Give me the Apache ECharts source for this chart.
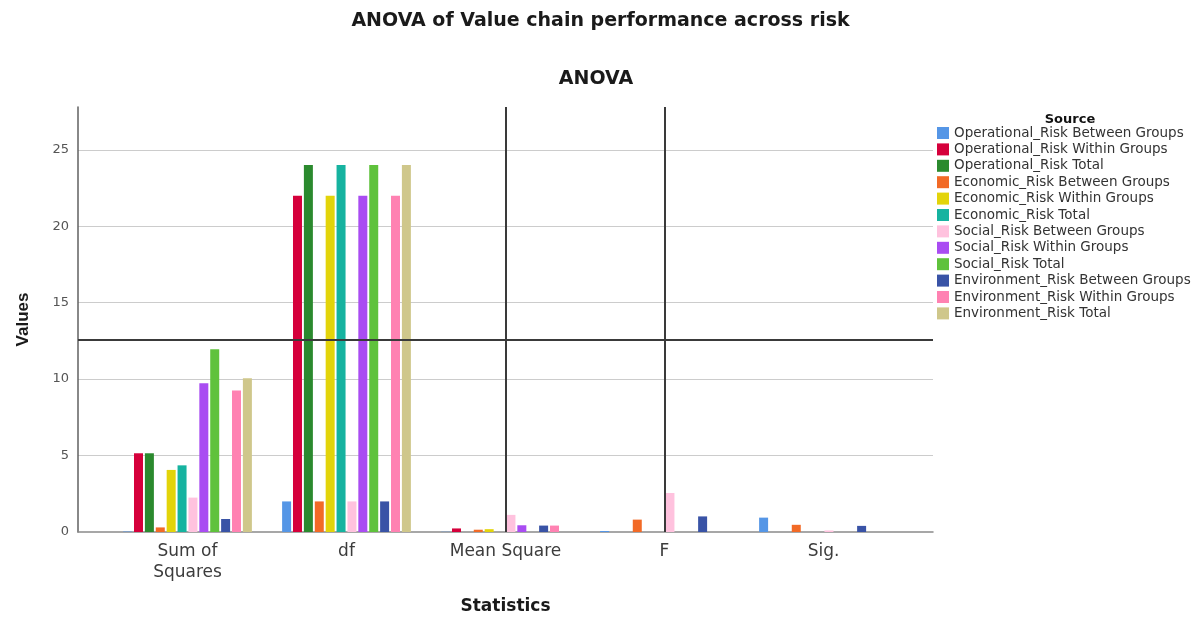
<!DOCTYPE html>
<html>
<head>
<meta charset="utf-8">
<script src="https://cdn.jsdelivr.net/npm/echarts@6/dist/echarts.min.js"></script>
<style>html,body{margin:0;padding:0;background:#fff;}#chart{width:1201px;height:619px;}</style>
</head>
<body>
<div id="chart"></div>
<script>
const categories = ['Sum of\nSquares', 'df', 'Mean Square', 'F', 'Sig.'];
const seriesNames = [
  'Operational_Risk Between Groups', 'Operational_Risk Within Groups', 'Operational_Risk Total',
  'Economic_Risk Between Groups', 'Economic_Risk Within Groups', 'Economic_Risk Total',
  'Social_Risk Between Groups', 'Social_Risk Within Groups', 'Social_Risk Total',
  'Environment_Risk Between Groups', 'Environment_Risk Within Groups', 'Environment_Risk Total'
];
// values per series: [Sum of Squares, df, Mean Square, F, Sig.]
const opBetween  = [0.03, 2, 0.015, 0.065, 0.94];
const opWithin   = [5.15, 22, 0.233, null, null];
const opTotal    = [5.15, 24, null, null, null];
const ecBetween  = [0.30, 2, 0.15, 0.81, 0.47];
const ecWithin   = [4.06, 22, 0.185, null, null];
const ecTotal    = [4.36, 24, null, null, null];
const soBetween  = [2.25, 2, 1.12, 2.55, 0.10];
const soWithin   = [9.73, 22, 0.44, null, null];
const soTotal    = [11.95, 24, null, null, null];
const enBetween  = [0.85, 2, 0.42, 1.02, 0.40];
const enWithin   = [9.25, 22, 0.42, null, null];
const enTotal    = [10.05, 24, null, null, null];
const seriesValues = [opBetween, opWithin, opTotal, ecBetween, ecWithin, ecTotal,
                      soBetween, soWithin, soTotal, enBetween, enWithin, enTotal];
const colors = ['#5596e6', '#d5003b', '#2b8a2e', '#f26a26', '#e3d40a', '#16b3a0',
                '#ffc2de', '#a94cf2', '#5fc23c', '#3953a6', '#ff82b2', '#cfc78b'];
const yTicks = { min: 0, max: 27.8, interval: 5 };
const refLineY = 12.55;
const refLineCats = ['Mean Square', 'F'];

const chart = echarts.init(document.getElementById('chart'), null, { renderer: 'canvas' });
const fontMain = 'DejaVu Sans';
const refStyle = { color: '#3a3a3a', width: 2, type: 'solid' };

const barSeries = seriesNames.map((name, i) => ({
  name: name,
  type: 'bar',
  xAxisIndex: 1,
  yAxisIndex: 1,
  data: seriesValues[i],
  barWidth: 9,
  barGap: '21%',
  itemStyle: { color: colors[i] },
  emphasis: { disabled: true }
}));

const option = {
  animation: false,
  backgroundColor: '#ffffff',
  color: colors,
  title: [
    { text: 'ANOVA of Value chain performance across risk', left: 'center', top: 7,
      textStyle: { fontFamily: fontMain, fontSize: 19, fontWeight: 'bold', color: '#1a1a1a' } },
    { text: 'ANOVA', left: 591, top: 65, textAlign: 'center',
      textStyle: { fontFamily: fontMain, fontSize: 19, fontWeight: 'bold', color: '#1a1a1a' } },
    { text: 'Source', left: 1065, top: 108, textAlign: 'center',
      textStyle: { fontFamily: fontMain, fontSize: 13, fontWeight: 'bold', color: '#111' } }
  ],
  legend: {
    data: seriesNames,
    orient: 'vertical',
    left: 937,
    top: 126,
    padding: 0,
    icon: 'rect',
    itemWidth: 12,
    itemHeight: 12,
    itemGap: 2.4,
    selectedMode: false,
    textStyle: { fontFamily: fontMain, fontSize: 13.5, lineHeight: 14, color: '#333' }
  },
  grid: [
    { left: 78, right: 268, top: 107, bottom: 87, containLabel: false, outerBoundsMode: 'none' },
    { left: 108, right: 298, top: 107, bottom: 87, containLabel: false, outerBoundsMode: 'none' }
  ],
  xAxis: [
    { type: 'value', gridIndex: 0, min: 0, max: 1,
      axisLine: { show: true, lineStyle: { color: '#8a8a8a', width: 1.5 } },
      axisTick: { show: false }, axisLabel: { show: false }, splitLine: { show: false },
      name: 'Statistics', nameLocation: 'middle', nameGap: 66,
      nameTextStyle: { fontFamily: fontMain, fontSize: 17, fontWeight: 'bold', color: '#1a1a1a' } },
    { type: 'category', gridIndex: 1, data: categories,
      axisLine: { show: false }, axisTick: { show: false },
      axisLabel: { fontFamily: fontMain, fontSize: 17, color: '#3c3c3c', margin: 9, lineHeight: 21 } }
  ],
  yAxis: [
    { type: 'value', gridIndex: 0, min: yTicks.min, max: yTicks.max, interval: yTicks.interval,
      axisLine: { show: true, lineStyle: { color: '#606060', width: 1.5 } },
      axisTick: { show: false },
      axisLabel: { fontFamily: fontMain, fontSize: 13, color: '#555', margin: 9, showMaxLabel: false },
      splitLine: { show: true, showMinLine: false, showMaxLine: false, lineStyle: { color: '#cccccc', width: 1 } },
      name: 'Values', nameLocation: 'middle', nameGap: 46, nameRotate: 90,
      nameTextStyle: { fontFamily: 'Liberation Sans', fontSize: 17, fontWeight: 'bold', color: '#1a1a1a' } },
    { type: 'value', gridIndex: 1, min: yTicks.min, max: yTicks.max, interval: yTicks.interval, show: false,
      splitLine: { show: false } }
  ],
  series: barSeries.concat([
    {
      name: 'refline-h', type: 'line', xAxisIndex: 0, yAxisIndex: 0, data: [], z: 5,
      markLine: {
        silent: true, symbol: 'none', label: { show: false },
        lineStyle: refStyle,
        data: [{ yAxis: refLineY }]
      }
    },
    {
      name: 'refline-v', type: 'line', xAxisIndex: 1, yAxisIndex: 1, data: [], z: 5,
      markLine: {
        silent: true, symbol: 'none', label: { show: false },
        lineStyle: refStyle,
        data: refLineCats.map(c => ({ xAxis: c }))
      }
    }
  ])
};
chart.setOption(option);
</script>
</body>
</html>
